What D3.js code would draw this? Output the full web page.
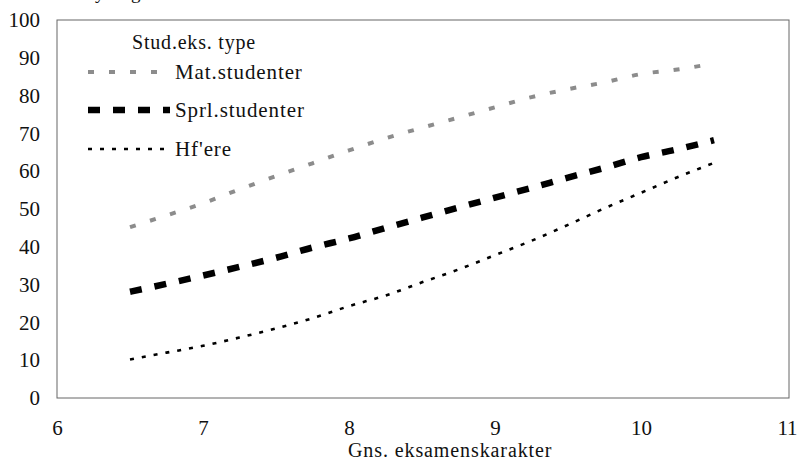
<!DOCTYPE html>
<html><head><meta charset="utf-8">
<script src="https://cdn.jsdelivr.net/npm/d3@7"></script>
<style>html,body{margin:0;padding:0;background:#fff;}svg{display:block;}</style>
</head><body>
<svg id="c" width="799" height="460"></svg>
<script>
const xValues = [6.5, 6.75, 7, 7.25, 7.5, 7.75, 8, 8.25, 8.5, 8.75, 9, 9.25, 9.5, 9.75, 10, 10.25, 10.5];
const matValues  = [45.2, 48.3, 51.5, 55.2, 58.7, 62.1, 65.5, 68.7, 71.5, 74.2, 76.9, 79.6, 81.7, 83.5, 85.7, 86.9, 88.5];
const sprlValues = [28.1, 30.2, 32.4, 34.7, 37.1, 39.8, 42.2, 45.0, 47.7, 50.4, 53.0, 55.6, 58.3, 60.9, 63.7, 65.8, 68.2];
const hfValues   = [10.2, 12.0, 13.8, 16.0, 18.4, 21.1, 24.3, 27.1, 30.6, 34.0, 37.8, 41.6, 45.8, 50.2, 54.3, 58.4, 62.2];
const seriesNames = ["Mat.studenter", "Sprl.studenter", "Hf'ere"];
const xTicks = [6, 7, 8, 9, 10, 11];
const yTicks = [0, 10, 20, 30, 40, 50, 60, 70, 80, 90, 100];
const legendTitle = "Stud.eks. type";
const xTitle = "Gns. eksamenskarakter";

const svg = d3.select("#c");
const font = "'Liberation Serif', 'DejaVu Serif', serif";
const L = 57, R = 787, T = 20, B = 398;
const x = d3.scaleLinear().domain([6, 11]).range([L, R]);
const y = d3.scaleLinear().domain([0, 100]).range([B, T]);

// cropped title descenders at top
svg.append("text").attr("x", 95).attr("y", -1).attr("font-family", font).attr("font-size", 19).attr("fill", "#111").text("y");
svg.append("text").attr("x", 131).attr("y", -1).attr("font-family", font).attr("font-size", 19).attr("fill", "#111").text("g");

// frame
svg.append("rect").attr("x", L).attr("y", T).attr("width", R + 2 - L).attr("height", B - T)
  .attr("fill", "none").attr("stroke", "#666").attr("stroke-width", 1);

// axes
const yAxis = d3.axisLeft(y).tickValues(yTicks).tickFormat(d3.format("d")).tickSize(0).tickPadding(17);
const gy = svg.append("g").attr("transform", `translate(${L},0)`).call(yAxis);
gy.select(".domain").remove();
gy.selectAll("text").attr("font-family", font).attr("font-size", 21).attr("fill", "#111");

const xAxis = d3.axisBottom(x).tickValues(xTicks).tickFormat(d3.format("d")).tickSize(0).tickPadding(22);
const gx = svg.append("g").attr("transform", `translate(0,${B})`).call(xAxis);
gx.select(".domain").remove();
gx.selectAll("text").attr("font-family", font).attr("font-size", 21).attr("fill", "#111");

svg.append("text").attr("x", 348).attr("y", 457).attr("font-family", font).attr("font-size", 20)
  .attr("letter-spacing", 0.9).attr("fill", "#111").text(xTitle);

// lines
const styles = [
  {stroke: "#8c8c8c", width: 4, dash: "6,15"},
  {stroke: "#000", width: 6.5, dash: "12,13"},
  {stroke: "#000", width: 2.6, dash: "4,8"}
];
const data = [matValues, sprlValues, hfValues];
const line = d3.line().x(d => x(d[0])).y(d => y(d[1])).curve(d3.curveMonotoneX);
data.forEach((vals, i) => {
  svg.append("path").datum(xValues.map((xv, j) => [xv, vals[j]]))
    .attr("d", line).attr("fill", "none")
    .attr("stroke", styles[i].stroke).attr("stroke-width", styles[i].width)
    .attr("stroke-dasharray", styles[i].dash);
});

// legend
svg.append("text").attr("x", 132).attr("y", 49).attr("font-family", font).attr("font-size", 20)
  .attr("letter-spacing", 0.8).attr("fill", "#111").text(legendTitle);
const legY = [72, 110, 149];
seriesNames.forEach((name, i) => {
  svg.append("line").attr("x1", 88).attr("x2", 170).attr("y1", legY[i]).attr("y2", legY[i])
    .attr("stroke", styles[i].stroke).attr("stroke-width", styles[i].width)
    .attr("stroke-dasharray", styles[i].dash);
  svg.append("text").attr("x", 175).attr("y", legY[i] + 7).attr("font-family", font).attr("font-size", 21)
    .attr("letter-spacing", 0.9).attr("fill", "#111").text(name);
});
</script>
</body></html>
